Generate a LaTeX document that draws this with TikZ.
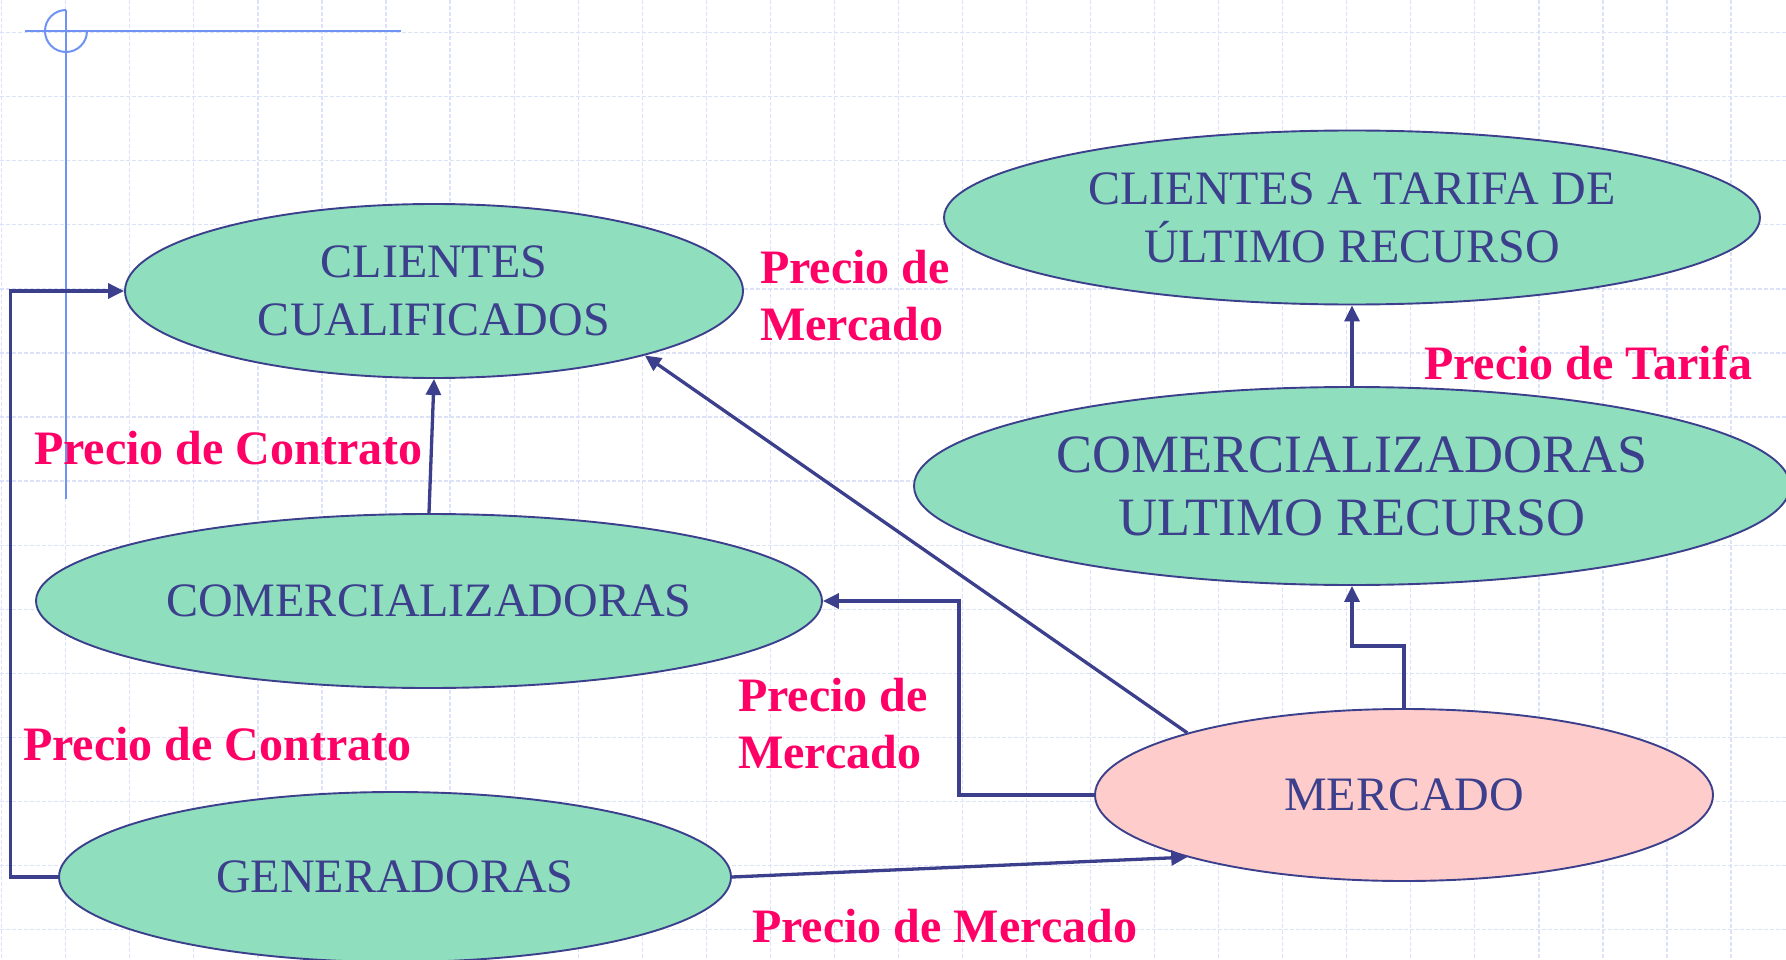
\documentclass[tikz,border=0pt]{standalone}
\usepackage{fontspec}
\setmainfont{Liberation Serif}
\usetikzlibrary{shapes.geometric,arrows.meta}
\definecolor{mint}{HTML}{8FDEBE}
\definecolor{rosa}{HTML}{FFCCCC}
\definecolor{navy}{HTML}{3C3F8C}
\definecolor{precio}{HTML}{FF0066}
\definecolor{gridblue}{HTML}{DCE3F8}
\definecolor{markblue}{HTML}{7092F2}

\begin{document}
\begin{tikzpicture}[x=1pt,y=-1pt,
  agente/.style={ellipse,draw=navy,line width=1.9pt,fill=mint,text=navy,inner sep=0pt,align=center,font=\fontsize{48}{58}\selectfont},
  flujo/.style={draw=navy,line width=3.3pt,-{Triangle[length=16pt,width=15pt]}},
  precio/.style={text=precio,font=\bfseries\fontsize{48}{57}\selectfont,inner sep=0pt,anchor=west,align=left}]
\useasboundingbox (0,0) rectangle (1786,960);
\clip (0,0) rectangle (1786,960);
\foreach \i in {0,...,27}
  \draw[gridblue,line width=1.2pt,dash pattern=on 4pt off 2pt] ({1.7+64.05*\i},0) -- ({1.7+64.05*\i},960);
\foreach \j in {0,...,14}
  \draw[gridblue,line width=1.2pt,dash pattern=on 4pt off 2pt] (0,{32.7+64.05*\j}) -- (1786,{32.7+64.05*\j});
\draw[markblue,line width=2pt] (25,31) -- (401,31);
\draw[markblue,line width=2pt] (66,10) -- (66,499);
\draw[markblue,line width=2pt] (66,10) arc[start angle=270,end angle=0,radius=21];

\node[agente,minimum width=618pt,minimum height=174pt] (cli) at (434,291) {CLIENTES\\CUALIFICADOS};
\node[agente,minimum width=816pt,minimum height=174pt] (tar) at (1352,217.5) {CLIENTES A TARIFA DE\\ÚLTIMO RECURSO};
\node[agente,minimum width=876pt,minimum height=198pt,font=\fontsize{54}{63}\selectfont] (cur) at (1352,486) {COMERCIALIZADORAS\\ULTIMO RECURSO};
\node[agente,minimum width=786pt,minimum height=174pt] (com) at (429,601) {COMERCIALIZADORAS};
\node[agente,fill=rosa,minimum width=618pt,minimum height=172pt] (mer) at (1404,795) {MERCADO};
\node[agente,minimum width=672pt,minimum height=170pt] (gen) at (395,877) {GENERADORAS};

\draw[flujo] (gen.west) -- ++(-47.5,0) |- (cli.west);
\draw[flujo] (gen.east) -- (mer.196);
\draw[flujo] (mer.164) -- (cli.343.5);
\draw[flujo] (mer.west) -- ++(-135,0) |- (com.east);
\draw[flujo] (mer.north) -- ++(0,-62) -| (cur.south);
\draw[flujo] (com.north) -- (cli.south);
\draw[flujo] (cur.north) -- (tar.south);

\node[precio] (pm1) at (760,296) {Precio de\\Mercado};
\node[precio] (pt) at (1424,363) {Precio de Tarifa};
\node[precio] (pc1) at (34,448) {Precio de Contrato};
\node[precio] (pm2) at (738,724) {Precio de\\Mercado};
\node[precio] (pc2) at (23,744) {Precio de Contrato};
\node[precio] (pm3) at (752,926) {Precio de Mercado};
\end{tikzpicture}
\end{document}
